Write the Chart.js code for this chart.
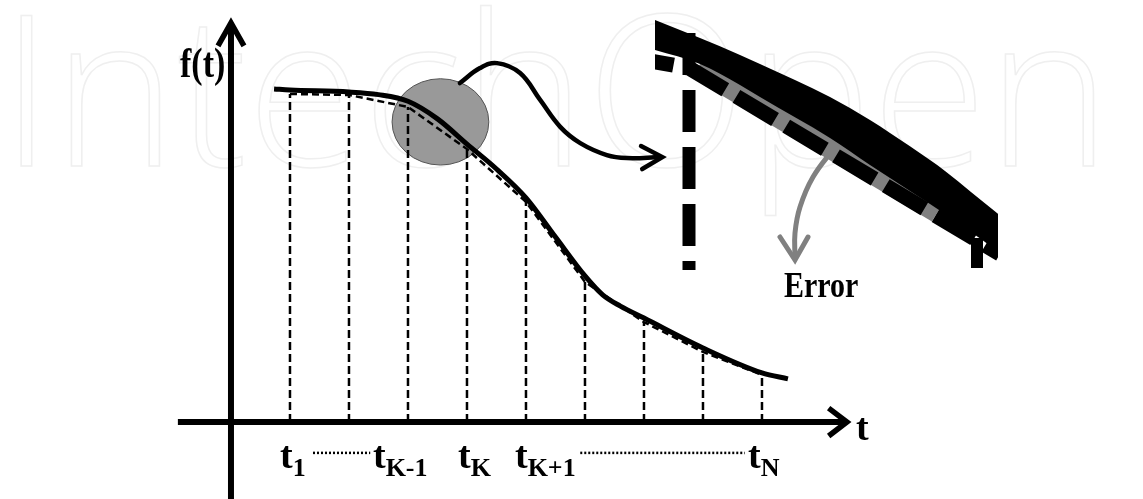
<!DOCTYPE html>
<html lang="en">
<head>
    <meta charset="UTF-8">
    <title>Discretisation error</title>
    <script src="https://cdn.jsdelivr.net/npm/chart.js"></script>
    <style>
        body { margin: 0; background: #fff; }
        #wrap { position: relative; width: 1143px; height: 499px; }
        #grafico { position: absolute; left: 0; top: 0; }
        #zoom { position: absolute; left: 655px; top: 0; }
    </style>
</head>
<body>
<div id="wrap">
    <canvas id="grafico" width="1143" height="499"></canvas>
    <canvas id="zoom" width="343" height="300"></canvas>
</div>

<script>
    // main plot: t in sample steps, f in arbitrary units
    const sampleT = [1, 2, 3, 4, 5, 6, 7, 8, 9];
    const sampleF = [9.88, 9.85, 9.49, 8.22, 6.63, 4.22, 3.01, 2.11, 1.42];   // dashed approximation

    const curveT = [0.73, 1, 2, 2.5, 3, 3.5, 4, 4.5, 5, 5.5, 6, 6.3, 6.6, 7, 8, 9, 9.44];
    const curveF = [10.03, 10.0, 9.94, 9.86, 9.66, 9.13, 8.37, 7.62, 6.75, 5.57, 4.40, 3.83, 3.49, 3.13, 2.23, 1.48, 1.30];

    // curved pointer from the grey lens to the zoomed view
    const linkT = [3.88, 4.22, 4.51, 4.90, 5.24, 5.58, 5.92, 6.37, 6.71, 7.27];
    const linkF = [10.21, 10.66, 10.81, 10.51, 9.70, 8.89, 8.40, 8.04, 7.95, 7.98];
    const linkHeadT = [6.95, 7.31, 6.97];
    const linkHeadF = [8.31, 7.98, 7.62];

    const lensCenter = [3.55, 9.04];
    const lensRadius = [0.82, 1.30];

    const axisT = [-0.9, 10.44];
    const axisF = [-2.32, 12.02];

    const tickAt = [1, 3, 4, 5, 9];
    const tickMain = ['t', 't', 't', 't', 't'];
    const tickSub = ['1', 'K-1', 'K', 'K+1', 'N'];
    const dotsFrom = [1.39, 5.92];
    const dotsTo = [2.36, 8.71];
    const dotsF = -0.93;

    // zoomed view (its own units)
    const bandX = [-15, 0, 45, 85, 105, 175, 215, 235, 275, 290, 342, 355];
    const bandTop = [286, 280, 262, 245, 236, 203, 180, 167, 140, 129, 87, 77];
    const bandBottom = [254, 250, 236, 215, 203, 162, 135, 122, 96, 86, 49, 38];
    const approxX = [-15, 34, 345, 355];
    const approxY = [241, 232, 46, 40];
    const errorX = [42, 282];
    const errorY = [231, 87];
    const errArrowX = [180, 158, 145, 140, 140];
    const errArrowY = [153, 123, 93, 67, 42];
    const errHeadX = [125, 140, 153];
    const errHeadY = [63, 40, 63];

    const SERIF = '"Liberation Serif", "Times New Roman", serif';
    const labelShift = [-10, -35, -9, -11, -14];

    function pts(xs, ys) {
        return xs.map((x, i) => ({ x: x, y: ys[i] }));
    }

    function line(data, opts) {
        return Object.assign({
            data: data,
            borderColor: '#000',
            borderWidth: 2,
            pointRadius: 0,
            fill: false,
            tension: 0
        }, opts);
    }

    // datasets listed from top to bottom
    let mainSets = [];
    mainSets.push(line(pts(curveT, curveF), { borderWidth: 5, cubicInterpolationMode: 'monotone' }));
    mainSets.push(line(pts(linkT, linkF), { borderWidth: 4.5, tension: 0.4, borderCapStyle: 'round' }));
    mainSets.push(line(pts(linkHeadT, linkHeadF), { borderWidth: 4.5, borderCapStyle: 'round' }));
    mainSets.push(line(pts(sampleT, sampleF), { borderWidth: 2.5, borderDash: [7, 4] }));
    sampleT.forEach((t, i) => {
        mainSets.push(line([{ x: t, y: 0 }, { x: t, y: sampleF[i] }], { borderWidth: 2.5, borderDash: [8, 4] }));
    });
    mainSets.push(line([{ x: axisT[0], y: 0 }, { x: axisT[1], y: 0 }], { borderWidth: 6 }));
    mainSets.push(line([{ x: 0, y: axisF[0] }, { x: 0, y: axisF[1] }], { borderWidth: 6 }));
    mainSets.push(line(pts([axisT[1] - 0.31, axisT[1], axisT[1] - 0.31], [0.42, 0, -0.42]), { borderWidth: 5.5 }));
    mainSets.push(line(pts([-0.22, 0, 0.22], [axisF[1] - 0.69, axisF[1], axisF[1] - 0.69]), { borderWidth: 5.5 }));
    dotsFrom.forEach((d, i) => {
        mainSets.push(line([{ x: d, y: dotsF }, { x: dotsTo[i], y: dotsF }], { borderWidth: 2.5, borderDash: [2, 2] }));
    });

    function stretchText(ctx, text, x, y, size, sy) {
        ctx.save();
        ctx.translate(x, y);
        ctx.scale(1, sy);
        ctx.font = 'bold ' + size + 'px ' + SERIF;
        ctx.fillText(text, 0, 0);
        ctx.restore();
    }

    const decor = {
        id: 'decor',
        beforeDraw(chart) {
            // faint publisher watermark
            const ctx = chart.ctx;
            ctx.save();
            ctx.strokeStyle = '#efefef';
            ctx.lineWidth = 1.5;
            ctx.font = '300 210px "Open Sans"';
            ctx.textBaseline = 'alphabetic';
            ctx.strokeText('IntechOpen', 0, 166);
            ctx.restore();
        },
        beforeDatasetsDraw(chart) {
            const ctx = chart.ctx, sx = chart.scales.x, sy = chart.scales.y;
            const cx = sx.getPixelForValue(lensCenter[0]);
            const cy = sy.getPixelForValue(lensCenter[1]);
            const rx = sx.getPixelForValue(lensCenter[0] + lensRadius[0]) - cx;
            const ry = cy - sy.getPixelForValue(lensCenter[1] + lensRadius[1]);
            ctx.save();
            ctx.beginPath();
            ctx.ellipse(cx, cy, rx, ry, 0, 0, Math.PI * 2);
            ctx.fillStyle = '#999999';
            ctx.fill();
            ctx.strokeStyle = '#555';
            ctx.lineWidth = 1;
            ctx.stroke();
            ctx.restore();
        },
        afterDatasetsDraw(chart) {
            const ctx = chart.ctx, sx = chart.scales.x;
            ctx.save();
            ctx.fillStyle = '#000';
            ctx.textBaseline = 'alphabetic';
            stretchText(ctx, 'f(t)', 180, 77, 34, 1.25);
            stretchText(ctx, 't', 856, 440, 38, 1);
            stretchText(ctx, 'Error', 784, 297, 30, 1.22);
            tickAt.forEach((t, i) => {
                const x = sx.getPixelForValue(t) + labelShift[i];
                ctx.font = 'bold 38px ' + SERIF;
                ctx.fillText(tickMain[i], x, 468);
                const w = ctx.measureText(tickMain[i]).width;
                ctx.font = 'bold 26px ' + SERIF;
                ctx.fillText(tickSub[i], x + w, 476);
            });
            ctx.restore();
        }
    };

    const bareOptions = (xMax, yMin, yMax, xMin) => ({
        responsive: false,
        animation: false,
        events: [],
        layout: { padding: 0 },
        plugins: { legend: { display: false }, tooltip: { enabled: false } },
        scales: {
            x: { type: 'linear', min: xMin, max: xMax, display: false },
            y: { type: 'linear', min: yMin, max: yMax, display: false }
        }
    });

    new Chart(document.getElementById('grafico').getContext('2d'), {
        type: 'line',
        data: { datasets: mainSets },
        options: bareOptions(15.458, -2.319, 12.711, -3.915),
        plugins: [decor]
    });

    // zoomed view
    let zoomSets = [];
    zoomSets.push(line(pts(bandX, bandTop), { borderWidth: 0, cubicInterpolationMode: 'monotone', fill: '+1', backgroundColor: '#000' }));
    zoomSets.push(line(pts(bandX, bandBottom), { borderWidth: 0, cubicInterpolationMode: 'monotone' }));
    zoomSets.push(line(pts(approxX, approxY), { borderWidth: 15, borderDash: [45, 13], borderDashOffset: 10.9 }));
    zoomSets.push(line(pts(errArrowX, errArrowY), { borderColor: '#808080', borderWidth: 5, tension: 0.4 }));
    zoomSets.push(line(pts(errHeadX, errHeadY), { borderColor: '#808080', borderWidth: 5, borderCapStyle: 'round' }));
    zoomSets.push(line(pts(errorX, errorY), { borderColor: '#808080', borderWidth: 20 }));
    zoomSets.push(line([{ x: 34, y: 267 }, { x: 34, y: 30 }], { borderWidth: 13, borderDash: [42, 15] }));
    zoomSets.push(line([{ x: 322, y: 62 }, { x: 322, y: 32 }], { borderWidth: 12 }));

    new Chart(document.getElementById('zoom').getContext('2d'), {
        type: 'line',
        data: { datasets: zoomSets },
        options: bareOptions(343, 0, 300, 0)
    });
</script>
</body>
</html>
